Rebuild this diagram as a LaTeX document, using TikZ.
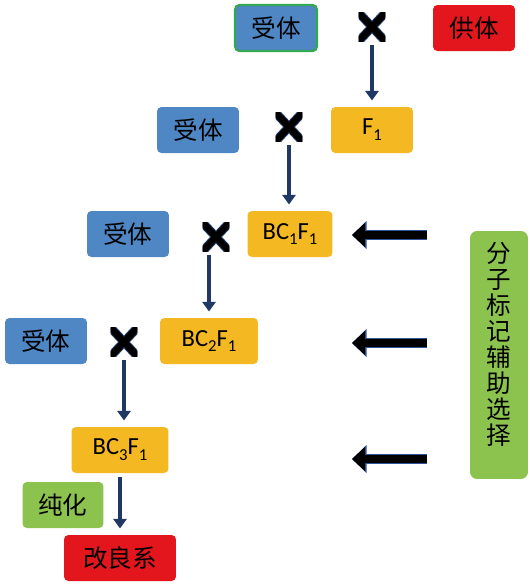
\documentclass[tikz,border=0pt]{standalone}
\usepackage{fontspec}
\setmainfont{Carlito}
\newfontfamily\cjk{Noto Sans CJK SC}
\usetikzlibrary{arrows.meta}
\definecolor{boxblue}{HTML}{4F86C4}
\definecolor{boxred}{HTML}{E3161E}
\definecolor{boxyellow}{HTML}{F4B922}
\definecolor{boxgreen}{HTML}{8CC34F}
\definecolor{edgegreen}{HTML}{33A853}
\definecolor{navy}{HTML}{1F3864}
\definecolor{glowblue}{HTML}{2F5597}
\newcommand{\lowidx}[1]{\raisebox{-0.5ex}{\fontsize{9.5}{9.5}\selectfont #1}}
\tikzset{
  box/.style={rounded corners=2.5pt, inner sep=0pt, minimum height=0.92cm,
    font=\cjk\fontsize{14}{16}\selectfont},
  receptor/.style={box, fill=boxblue, minimum width=1.64cm},
  donor/.style={box, fill=boxred, minimum width=1.64cm},
  hybrid/.style={box, fill=boxyellow, minimum width=1.64cm,
    font=\fontsize{14}{16}\selectfont},
  purify/.style={box, fill=boxgreen, minimum width=1.62cm},
  marker/.style={rounded corners=4pt, fill=boxgreen, minimum width=1.16cm,
    minimum height=4.96cm},
  vtext/.style={align=center, inner sep=0pt,
    font=\cjk\fontsize{14}{14.8}\selectfont},
  cross/.style={minimum width=0.54cm, minimum height=0.58cm, inner sep=0pt,
    path picture={
      \draw[navy, line width=5pt]
        (path picture bounding box.north west) -- (path picture bounding box.south east)
        (path picture bounding box.south west) -- (path picture bounding box.north east);
      \draw[black, line width=3.8pt]
        (path picture bounding box.north west) -- (path picture bounding box.south east)
        (path picture bounding box.south west) -- (path picture bounding box.north east);
    }},
  down/.style={navy, line width=1.8pt, -{Triangle[length=5.5pt,width=7.5pt]},
    shorten <=2pt, shorten >=3.5pt},
  bigarrow/.style={black, line width=5pt, -{Triangle[length=7.5pt,width=13.5pt]}},
  bigglow/.style={glowblue, line width=6.2pt, -{Triangle[length=8.3pt,width=15.5pt]}},
}
\begin{document}
\begin{tikzpicture}[x=0.02cm, y=-0.02cm]
  \useasboundingbox (0,0) rectangle (530,586);
  % parents and crosses
  \node[receptor, draw=edgegreen, line width=1.2pt] (r0) at (276,28) {受体};
  \node[cross] (x0) at (372,27) {};
  \node[donor] (d0) at (474,28) {供体};
  \node[hybrid] (f1) at (372,130) {F\lowidx1};
  \node[receptor] (r1) at (198,130) {受体};
  \node[cross] (x1) at (289,127) {};
  \node[hybrid, minimum width=1.70cm] (bc1) at (290,234) {BC\lowidx1F\lowidx1};
  \node[receptor] (r2) at (128,234) {受体};
  \node[cross] (x2) at (216,237) {};
  \node[hybrid, minimum width=1.96cm] (bc2) at (209,341) {BC\lowidx2F\lowidx1};
  \node[receptor] (r3) at (46,341) {受体};
  \node[cross] (x3) at (124,342) {};
  \node[hybrid, minimum width=1.94cm] (bc3) at (120,450) {BC\lowidx3F\lowidx1};
  \node[purify] (pu) at (63,505) {纯化};
  \node[donor, minimum width=2.24cm] (line) at (120,558) {改良系};
  % marker assisted selection
  \node[marker] (mas) at (499,355) {};
  \node[vtext] (mastext) at (499,344) {分\\子\\标\\记\\辅\\助\\选\\择};
  \coordinate (t1) at (427,235);
  \coordinate (h1) at (352,235);
  \coordinate (t2) at (427,343);
  \coordinate (h2) at (352,343);
  \coordinate (t3) at (427,459);
  \coordinate (h3) at (352,459);
  \begin{scope}[down]
    \draw (x0.south) to (x0.south |- f1.north);
    \draw (x1.south) to (x1.south |- bc1.north);
    \draw (x2.south -| bc2) to (bc2.north);
    \draw (x3.south) to (x3.south |- bc3.north);
    \draw (bc3.south) to (bc3.south |- line.north);
  \end{scope}
  \foreach \i in {1,2,3} {
    \draw[bigglow] (t\i) to (h\i);
    \draw[bigarrow] (t\i) to (h\i);
  }
\end{tikzpicture}
\end{document}
